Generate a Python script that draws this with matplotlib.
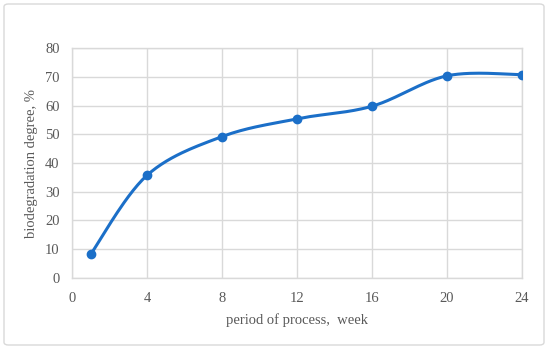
import numpy as np
import matplotlib
matplotlib.use("Agg")
import matplotlib.pyplot as plt
from matplotlib.patches import FancyBboxPatch

weeks = [1, 4, 8, 12, 16, 20, 24]
degree = [8.2, 35.7, 49.2, 55.4, 59.8, 70.4, 70.8]
xticks = [0, 4, 8, 12, 16, 20, 24]
yticks = [0, 10, 20, 30, 40, 50, 60, 70, 80]

def smooth(x, y, n=30):
    x = np.asarray(x, float); y = np.asarray(y, float)
    px = np.concatenate([[x[0]], x, [x[-1]]])
    py = np.concatenate([[y[0]], y, [y[-1]]])
    xs, ys = [], []
    t = np.linspace(0, 1, n)
    for i in range(1, len(px) - 2):
        p0 = np.array([px[i], py[i]]); p3 = np.array([px[i + 1], py[i + 1]])
        p1 = p0 + (np.array([px[i + 1], py[i + 1]]) - np.array([px[i - 1], py[i - 1]])) / 6
        p2 = p3 - (np.array([px[i + 2], py[i + 2]]) - np.array([px[i], py[i]])) / 6
        b = ((1 - t) ** 3)[:, None] * p0 + (3 * (1 - t) ** 2 * t)[:, None] * p1 + \
            (3 * (1 - t) * t ** 2)[:, None] * p2 + (t ** 3)[:, None] * p3
        xs.append(b[:, 0]); ys.append(b[:, 1])
    return np.concatenate(xs), np.concatenate(ys)

plt.rcParams['font.family'] = ['Liberation Serif', 'DejaVu Serif']
fig = plt.figure(figsize=(5.5, 3.49), dpi=100)
fig.patch.set_facecolor('white')
border = FancyBboxPatch((4 / 550, 4 / 349), 540 / 550, 341 / 349,
                        boxstyle="round,pad=0,rounding_size=0.008",
                        transform=fig.transFigure, facecolor='none',
                        edgecolor='#d9d9d9', linewidth=1.0)
fig.patches.append(border)

ax = fig.add_axes([72 / 550, (349 - 277.7) / 349, 450 / 550, 229.4 / 349])
grid = '#d9d9d9'
txt = '#595959'
sx, sy = smooth(weeks, degree)
ax.plot(sx, sy, color='#1b6fc8', linewidth=2.2, zorder=3, solid_capstyle='round')
ax.plot(weeks, degree, 'o', color='#1b6fc8', markersize=6, zorder=4)
ax.set_xlim(0, 24)
ax.set_ylim(0, 80)
ax.set_xticks(xticks)
ax.set_yticks(yticks)
ax.grid(True, color=grid, linewidth=1.0)
ax.set_axisbelow(True)
for s in ax.spines.values():
    s.set_color(grid)
    s.set_linewidth(1.0)
ax.tick_params(length=0, labelsize=10.5, colors=txt, pad=10)
ax.tick_params(axis='y', pad=9)
ax.set_xlabel('period of process,  week', fontsize=10.5, color=txt, labelpad=6)
ax.set_ylabel('biodegradation degree, %', fontsize=10.5, color=txt, labelpad=5)
fig.savefig('out.png', dpi=100)
